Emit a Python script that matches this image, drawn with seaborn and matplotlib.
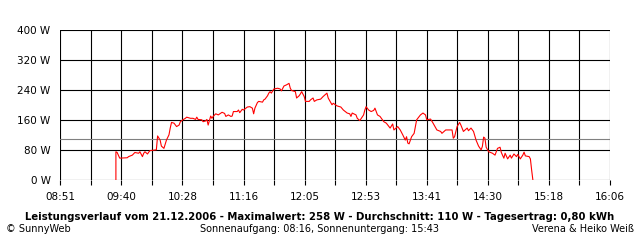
import matplotlib
matplotlib.use("Agg")
import matplotlib.pyplot as plt
import seaborn as sns
import pandas as pd
import numpy as np

# ---- data ----
times = [
    "09:35", "09:35", "09:36", "09:38", "09:44", "09:45", "09:48", "09:50", "09:53", "09:54",
    "09:56", "09:57", "09:58", "10:00", "10:01", "10:02", "10:07", "10:08", "10:10", "10:11",
    "10:13", "10:15", "10:17", "10:18", "10:19", "10:21", "10:23", "10:25", "10:26", "10:28",
    "10:30", "10:31", "10:34", "10:36", "10:38", "10:39", "10:40", "10:43", "10:44", "10:46",
    "10:47", "10:48", "10:50", "10:51", "10:52", "10:54", "10:56", "10:59", "11:01", "11:02",
    "11:04", "11:06", "11:07", "11:08", "11:11", "11:12", "11:13", "11:15", "11:16", "11:19",
    "11:21", "11:23", "11:24", "11:25", "11:27", "11:28", "11:31", "11:32", "11:33", "11:35",
    "11:36", "11:37", "11:38", "11:40", "11:43", "11:45", "11:46", "11:48", "11:50", "11:52",
    "11:53", "11:54", "11:57", "11:58", "12:00", "12:01", "12:02", "12:04", "12:05", "12:08",
    "12:09", "12:11", "12:12", "12:14", "12:17", "12:19", "12:22", "12:23", "12:25", "12:26",
    "12:27", "12:30", "12:33", "12:35", "12:38", "12:40", "12:41", "12:42", "12:45", "12:46",
    "12:48", "12:51", "12:52", "12:53", "12:55", "12:57", "12:59", "13:00", "13:02", "13:04",
    "13:07", "13:09", "13:12", "13:14", "13:15", "13:18", "13:20", "13:22", "13:24", "13:25",
    "13:26", "13:27", "13:29", "13:31", "13:33", "13:36", "13:38", "13:40", "13:41", "13:44",
    "13:46", "13:49", "13:52", "13:53", "13:56", "14:01", "14:02", "14:03", "14:05", "14:07",
    "14:08", "14:10", "14:13", "14:14", "14:16", "14:18", "14:20", "14:22", "14:24", "14:25",
    "14:26", "14:27", "14:28", "14:30", "14:33", "14:35", "14:37", "14:39", "14:40", "14:42",
    "14:43", "14:45", "14:47", "14:48", "14:50", "14:52", "14:53", "14:55", "14:57", "14:58",
    "14:59", "15:02", "15:03", "15:04", "15:05",
]
watts = [
    0, 76, 74, 59, 60, 63, 67, 74, 72, 76,
    63, 72, 76, 70, 75, 79, 81, 118, 107, 91,
    85, 107, 121, 139, 154, 152, 143, 147, 156, 161,
    165, 168, 165, 165, 162, 168, 162, 161, 156, 158,
    162, 147, 171, 165, 170, 177, 174, 181, 178, 170,
    174, 170, 171, 183, 183, 187, 180, 189, 187, 195,
    196, 192, 177, 192, 207, 210, 208, 214, 216, 225,
    232, 236, 232, 243, 245, 243, 238, 251, 254, 258,
    245, 239, 236, 219, 225, 230, 236, 223, 210, 210,
    214, 219, 210, 214, 216, 223, 232, 219, 207, 201,
    205, 198, 195, 187, 179, 177, 170, 179, 174, 165,
    159, 174, 187, 196, 187, 183, 186, 192, 174, 170,
    156, 152, 139, 150, 134, 143, 134, 121, 107, 116,
    99, 97, 116, 125, 161, 174, 179, 174, 161, 163,
    152, 134, 130, 125, 134, 134, 112, 116, 143, 154,
    147, 130, 139, 132, 139, 130, 107, 91, 81, 90,
    115, 112, 88, 76, 72, 67, 85, 88, 74, 59,
    72, 57, 67, 59, 70, 63, 69, 57, 67, 75,
    65, 63, 57, 27, 0,
]
average_w = 110
x_start, x_end = "08:51", "16:06"
x_tick_labels = ["08:51", "09:40", "10:28", "11:16", "12:05", "12:53", "13:41", "14:30", "15:18", "16:06"]
y_ticks = [0, 80, 160, 240, 320, 400]
y_tick_labels = ["0 W", "80 W", "160 W", "240 W", "320 W", "400 W"]

title = "Leistungsverlauf vom 21.12.2006 - Maximalwert: 258 W - Durchschnitt: 110 W - Tagesertrag: 0,80 kWh"
left_note = "\u00a9 SunnyWeb"
mid_note = "Sonnenaufgang: 08:16, Sonnenuntergang: 15:43"
right_note = "Verena & Heiko Wei\u00df"


def to_min(s):
    h, m = s.split(":")
    return int(h) * 60 + int(m)


df = pd.DataFrame({"t": [to_min(s) for s in times], "W": watts})

sns.set_style("white")
plt.rcParams["font.family"] = ["DejaVu Sans"]
plt.rcParams["text.color"] = "black"
plt.rcParams["xtick.color"] = "black"
plt.rcParams["ytick.color"] = "black"
plt.rcParams["xtick.labelcolor"] = "black"
plt.rcParams["ytick.labelcolor"] = "black"

fig = plt.figure(figsize=(6.4, 2.4), dpi=100)
ax = fig.add_axes([60.3 / 640, (240 - 180.3) / 240, (610 - 60.3) / 640, 150.3 / 240])

x0, x1 = to_min(x_start), to_min(x_end)
n_minor = (len(x_tick_labels) - 1) * 2
xt = np.linspace(x0, x1, n_minor + 1)

ax.set_xlim(x0, x1)
ax.set_ylim(0, 400)

# grid
for xv in xt:
    ax.axvline(xv, color="black", lw=0.8, zorder=1)
for yv in y_ticks:
    ax.axhline(yv, color="black", lw=0.8, zorder=1)

ax.axhline(average_w, color="#808080", lw=0.8, zorder=2)

sns.lineplot(data=df, x="t", y="W", estimator=None, sort=False, color="#ff0000",
             lw=0.8, ax=ax, zorder=3)

labels = []
for i in range(len(xt)):
    labels.append(x_tick_labels[i // 2] if i % 2 == 0 else "")
ax.set_xticks(xt)
ax.set_xticklabels(labels)
ax.set_yticks(y_ticks)
ax.set_yticklabels(y_tick_labels)
ax.tick_params(axis="x", length=3.6, width=0.8, color="black", labelcolor="black",
               pad=4.5, labelsize=7.5, bottom=True)
ax.tick_params(axis="y", length=0, pad=7, labelsize=7.5, labelcolor="black", left=False)
ax.set_xlabel("")
ax.set_ylabel("")
for sp in ax.spines.values():
    sp.set_visible(False)

fig.text(320 / 640, 1 - 217 / 240, title, ha="center", va="center", fontsize=7.25,
         fontweight="bold", color="black")
fig.text(6 / 640, 1 - 229 / 240, left_note, ha="left", va="center", fontsize=7.0, color="black")
fig.text(320 / 640, 1 - 229 / 240, mid_note, ha="center", va="center", fontsize=7.0, color="black")
fig.text(634 / 640, 1 - 229 / 240, right_note, ha="right", va="center", fontsize=7.0, color="black")

fig.savefig("out.png", dpi=100, facecolor="white")
